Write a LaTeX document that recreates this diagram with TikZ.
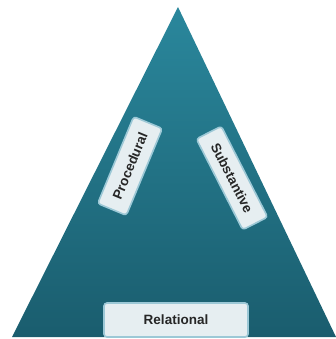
\documentclass[tikz,border=0pt]{standalone}
\usepackage{fontspec}
\setsansfont{Liberation Sans}
\usepackage{xcolor}
\usetikzlibrary{shapes}

\definecolor{tritop}{HTML}{2A879C}
\definecolor{tribottom}{HTML}{1A5D6E}
\definecolor{boxfill}{HTML}{E6EEF1}
\definecolor{boxedge}{HTML}{9CC8D6}

\begin{document}
\begin{tikzpicture}[x=1pt, y=-1pt, semithick, inner sep=2pt,
    label box/.style={draw=boxedge, fill=boxfill, line width=1.6pt, rounded corners=3pt,
      font=\sffamily\bfseries\fontsize{13.5}{15}\selectfont, text=black!85}]

      \useasboundingbox (0,0) rectangle (336,339);

      \coordinate (apex) at (178,7);
      \coordinate (left) at (12,337);
      \coordinate (right) at (336,337);
      \shade[top color=tritop, bottom color=tribottom] (apex) -- (right) -- (left) -- cycle;

      \node[label box, minimum width=94, minimum height=31, rotate=67.5] (proc) at (130,166) {Procedural};
      \node[label box, minimum width=102, minimum height=28, rotate=-63] (subst) at (232,178) {Substantive};
      \node[label box, minimum width=144, minimum height=34] (rel) at (176,320) {Relational};
    \end{tikzpicture}
\end{document}
